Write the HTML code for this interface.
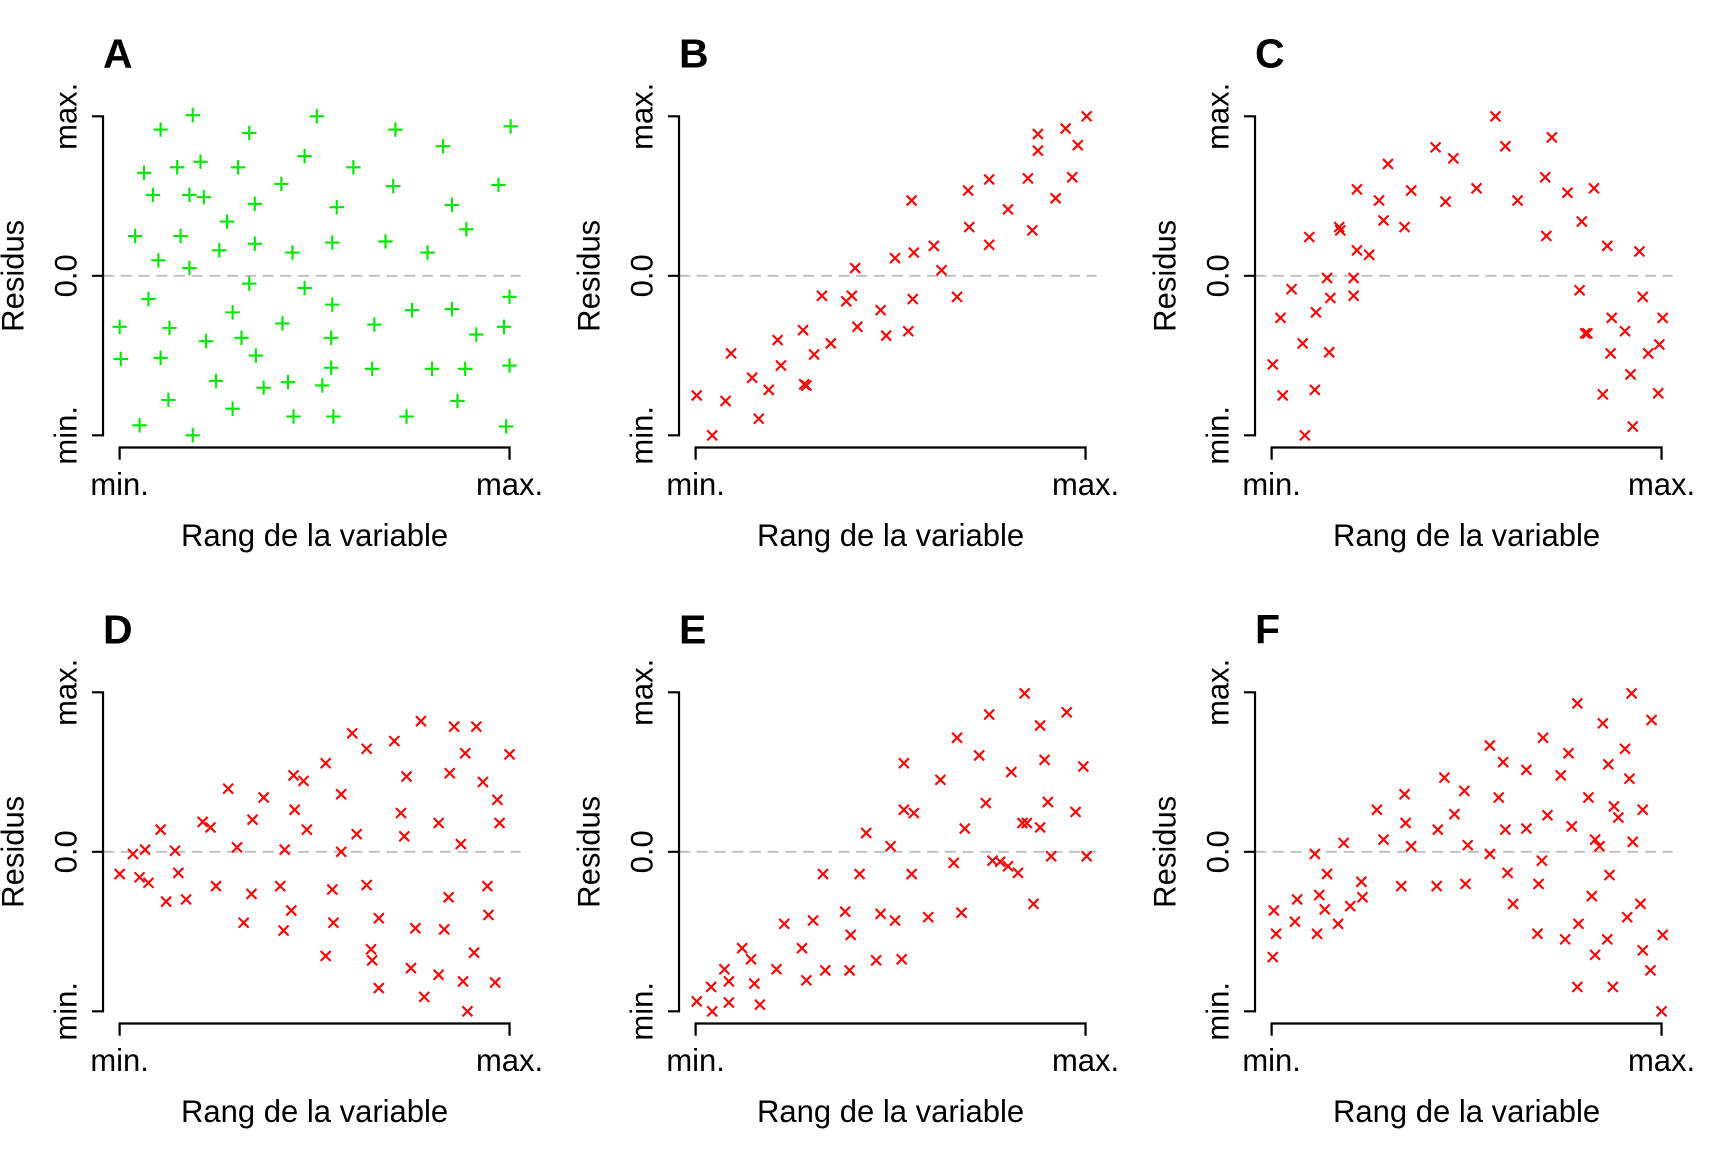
<!DOCTYPE html>
<html><head><meta charset="utf-8"><style>
html,body{margin:0;padding:0;background:#fff;}
svg{display:block;}
text{font-family:"Liberation Sans",Arial,sans-serif;fill:#000;}
</style></head><body>
<svg id="chart" width="1728" height="1152" viewBox="0 0 1560 1040" xmlns="http://www.w3.org/2000/svg"></svg>
<script>
// Panel data: x = variable rank, y = residual (domains given per panel)
const panelLetters = ["A","B","C","D","E","F"];
const xDomains = [[108,460],[630,982],[1153,1505],[108,460],[630,982],[1153,1505]];
const yDomains = [[393,105],[393,105],[393,105],[915,627],[915,627],[915,627]];
const aX = [145,174,130,160,181,138,171,184,122,163,143,171,215,225,230,205,230,198,254,275,286,319,304,300,264,357,355,348,386,400,408,421,450,461,134,108,109,153,145,152,126,174,225,210,218,186,195,231,210,238,255,260,265,275,300,299,299,291,301,336,338,372,367,390,408,420,430,413,455,460,460,457];
const aY = [117,104,156,151,146,176,176,178,213,213,235,242,151,120,184,200,220,226,166,141,105,151,187,219,228,117,168,218,228,132,185,207,167,114,270,295,324,296,323,361,384,393,256,282,305,308,344,321,369,350,292,345,376,260,275,305,332,348,376,333,293,280,376,333,279,333,302,362,295,268,330,385];
const bX = [631,645,657,662,681,687,696,704,707,727,728,730,737,744,752,766,771,774,776,797,802,810,822,825,826,827,845,852,866,876,877,895,895,912,930,934,939,939,955,964,970,975,983];
const bY = [357,393,362,319,341,378,352,307,330,298,347,348,320,267,310,272,267,242,295,280,303,233,299,181,270,228,222,244,268,172,205,162,221,189,161,208,121,136,179,116,160,131,105];
const cX = [1154,1161,1163,1171,1181,1183,1187,1192,1193,1203,1206,1205,1214,1215,1227,1227,1230,1230,1241,1250,1254,1258,1273,1279,1301,1310,1317,1338,1355,1364,1375,1400,1401,1406,1420,1431,1433,1436,1438,1444,1452,1456,1459,1460,1472,1477,1479,1485,1488,1493,1503,1502,1506];
const cY = [329,287,357,261,310,393,214,352,282,251,269,318,205,208,251,267,171,226,230,181,199,148,205,172,133,182,143,170,105,132,181,160,213,124,174,262,200,301,301,170,356,222,319,287,299,338,385,227,268,319,311,355,287];
const dX = [108,120,126,131,134,145,150,158,161,168,183,190,195,206,214,220,228,227,238,253,257,256,263,265,266,274,277,294,294,300,301,308,308,318,322,331,331,335,336,342,342,356,362,365,367,371,375,380,383,396,396,401,405,406,410,416,418,420,422,430,428,436,440,441,447,449,451,460];
const dY = [791,773,794,769,799,751,816,770,790,814,744,749,802,714,767,835,742,809,722,802,769,842,824,702,733,707,751,691,865,805,835,719,771,664,755,678,801,859,869,831,894,671,736,757,703,876,840,653,902,745,882,841,812,700,658,764,888,682,915,658,862,708,802,828,889,724,745,683];
const eX = [631,644,645,656,660,660,672,680,683,688,703,710,726,730,736,745,747,765,769,770,778,784,793,797,806,810,816,818,818,827,825,840,851,863,866,870,873,886,892,895,898,912,915,921,925,927,929,935,941,941,945,948,951,965,973,980,983,905];
const eY = [906,893,915,877,907,888,858,868,890,909,877,836,858,887,833,791,878,825,878,846,791,754,869,827,766,833,868,691,733,736,791,830,706,781,668,826,750,684,727,647,779,784,699,790,745,628,745,818,749,657,688,726,775,645,735,694,775,780];
const fX = [1154,1155,1157,1174,1176,1192,1194,1196,1201,1203,1213,1218,1224,1234,1235,1248,1254,1270,1273,1274,1279,1302,1303,1309,1318,1327,1328,1330,1350,1350,1358,1362,1364,1366,1371,1383,1383,1393,1394,1397,1398,1402,1414,1418,1421,1424,1429,1429,1430,1439,1442,1445,1445,1449,1452,1456,1457,1458,1461,1462,1466,1472,1474,1476,1478,1479,1486,1488,1488,1495,1496,1505,1506];
const fY = [866,824,845,834,814,773,845,810,823,791,836,763,820,798,812,733,760,802,719,745,766,802,751,704,737,716,800,765,675,773,722,690,751,790,818,697,750,845,800,779,668,738,702,850,682,748,637,893,836,722,811,760,864,766,655,850,692,792,893,730,740,678,830,705,628,762,818,733,860,878,652,915,846];
const xsAll = [aX,bX,cX,dX,eX,fX];
const ysAll = [aY,bY,cY,dY,eY,fY];

const NS = "http://www.w3.org/2000/svg";
const svg = document.getElementById("chart");
function mk(tag, attrs, parent){
  const e = document.createElementNS(NS, tag);
  for (const k in attrs) e.setAttribute(k, attrs[k]);
  (parent||svg).appendChild(e); return e;
}
for (let p=0;p<6;p++){
  const col=p%3, row=Math.floor(p/3);
  const ox=col*520, oy=row*520;
  const g = mk("g",{});
  
  
  const X0=108+ox, X1=460+ox, Ytop=105+oy, Ybot=393+oy, Y0=249+oy, AX=93+ox, AY=404+oy;
  const sx = v => X0 + (v - xDomains[p][0])/(xDomains[p][1]-xDomains[p][0])*(X1-X0);
  const sy = v => Ybot - (v - yDomains[p][0])/(yDomains[p][1]-yDomains[p][0])*(Ybot-Ytop);
  const zl = mk("line",{x1:AX,x2:X1+10,y1:Y0,y2:Y0,stroke:"#bebebe","stroke-width":1.6,"stroke-dasharray":"10 6"},g);
  
  
  const ya = mk("path",{d:`M${AX-10} ${Ytop}H${AX}V${Ybot}H${AX-10}M${AX-10} ${Y0}H${AX}`,stroke:"#000","stroke-width":2,fill:"none"},g);
  
  
  const xa = mk("path",{d:`M${X0} ${AY+11}V${AY}H${X1}V${AY+11}`,stroke:"#000","stroke-width":2,fill:"none"},g);
  
  
  [["max.",Ytop],["0.0",Y0],["min.",Ybot]].forEach(([t,y])=>{
    const tx = mk("text",{x:0,y:0,"font-size":28,"text-anchor":"middle",transform:`translate(${AX-24},${y}) rotate(-90)`},g);
    tx.textContent=t;
    
    
  });
  [["min.",X0],["max.",X1]].forEach(([t,x])=>{
    const tx = mk("text",{x:x,y:AY+43,"font-size":28,"text-anchor":"middle"},g);
    tx.textContent=t;
    
    
  });
  const yt = mk("text",{x:0,y:0,"font-size":28,"text-anchor":"middle",transform:`translate(${ox+21},${Y0}) rotate(-90)`},g);
  yt.textContent="Residus";
  
  
  const xt = mk("text",{x:(X0+X1)/2,y:oy+493,"font-size":28,"text-anchor":"middle"},g);
  xt.textContent="Rang de la variable";
  
  
  const lt = mk("text",{x:ox+93,y:oy+61,"font-size":37,"font-weight":"bold"},g);
  lt.textContent=panelLetters[p];
  
  
  const xs=xsAll[p], ys=ysAll[p];
  for (let i=0;i<xs.length;i++){
    const cx=sx(xs[i]), cy=sy(ys[i]);
    let d, col;
    if (p===0){ d=`M${cx-6.5} ${cy}H${cx+6.5}M${cx} ${cy-6.5}V${cy+6.5}`; col="#00e600"; }
    else { d=`M${cx-4.5} ${cy-4.5}L${cx+4.5} ${cy+4.5}M${cx-4.5} ${cy+4.5}L${cx+4.5} ${cy-4.5}`; col="#ff0000"; }
    const m = mk("path",{d:d,stroke:col,"stroke-width":1.9,fill:"none"},g);
    
    
  }
}
</script>
</body></html>
